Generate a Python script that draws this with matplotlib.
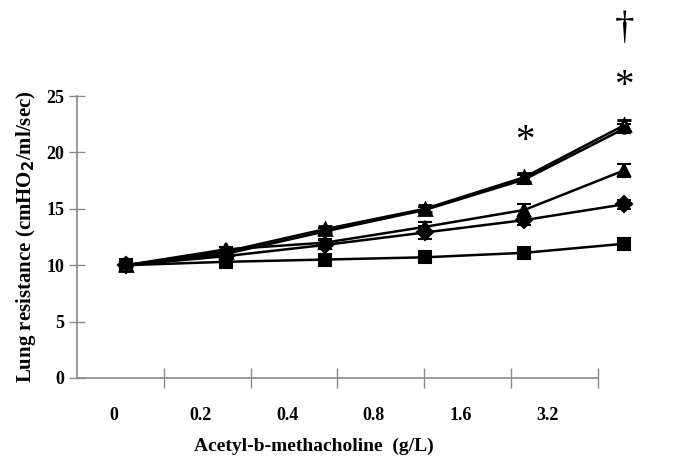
import numpy as np
import matplotlib
matplotlib.use("Agg")
import matplotlib.pyplot as plt

# doses of acetyl-b-methacholine (g/L)
doses = ["0", "0.2", "0.4", "0.8", "1.6", "3.2"]

# lung resistance (cmH2O/ml/sec)
top_a = [10.0, 11.2, 13.2, 15.0, 17.8, 22.4]
top_a_err = [0.1, 0.2, 0.3, 0.3, 0.4, 0.5]
top_b = [10.0, 11.0, 13.0, 14.9, 17.6, 22.1]
top_b_err = [0.1, 0.2, 0.3, 0.3, 0.4, 0.4]
tri = [10.0, 11.4, 12.0, 13.4, 14.9, 18.4]
tri_err = [0.1, 0.2, 0.3, 0.4, 0.5, 0.6]
dia = [10.0, 10.8, 11.8, 12.9, 14.0, 15.4]
dia_err = [0.1, 0.2, 0.4, 0.6, 0.4, 0.4]
sq = [10.0, 10.3, 10.5, 10.7, 11.1, 11.9]
sq_err = [0.1, 0.1, 0.1, 0.1, 0.1, 0.1]

# significance marks: (dose index, y value, symbol)
marks = [(4, 21.0, "*"), (5, 25.8, "*"), (5, 31.0, "\u2020")]

plt.rcParams['font.family'] = ['Liberation Serif', 'DejaVu Serif']
plt.rcParams['font.weight'] = 'bold'

fig = plt.figure(figsize=(6.85, 4.67), dpi=100)
pos = [0.1124, 0.1906, 0.7606, 0.6038]

# frame axes: category cells with ticks at the boundaries
ax = fig.add_axes(pos)
ax.set_xlim(0, 6)
ax.set_ylim(0, 25)
for s in ['top', 'right']:
    ax.spines[s].set_visible(False)
for s in ['left', 'bottom']:
    ax.spines[s].set_color('#8a8a8a')
    ax.spines[s].set_linewidth(1.2)
ax.set_xticks(np.arange(1, 7))
ax.set_xticklabels([])
# labels sit a little left of the cell centres in the original
ax.set_xticks(np.arange(len(doses)) + 0.42, minor=True)
ax.set_xticklabels(doses, minor=True, fontsize=13, fontweight='bold')
ax.tick_params(axis='x', which='major', direction='inout', length=14,
               color='#8a8a8a', width=1)
ax.tick_params(axis='x', which='minor', length=0, pad=21)
ax.set_yticks(np.arange(0, 26, 5))
ax.set_yticklabels([str(v) for v in range(0, 26, 5)], fontsize=13,
                   fontweight='bold')
ax.tick_params(axis='y', direction='inout', length=12, color='#8a8a8a',
               width=1, pad=3)
ax.set_xlabel("Acetyl-b-methacholine  (g/L)", fontsize=14, fontweight='bold')
ax.xaxis.set_label_coords(0.455, -0.21)
ax.set_ylabel("Lung resistance (cmHO$_{\\mathbf{2}}$/ml/sec)", fontsize=15,
              fontweight='bold', labelpad=6)

# data axes, the points sit on a wider spacing than the category cells
ax2 = fig.add_axes(pos, frameon=False, sharey=ax)
ax2.set_xlim(-0.492, 4.739)
ax2.tick_params(left=False, labelleft=False, bottom=False, labelbottom=False)
x = np.arange(len(doses))

series = [
    (sq, sq_err, 's', 'black', 9, 1.5),
    (dia, dia_err, 'D', 'black', 8, 1.5),
    (tri, tri_err, '^', 'black', 9, 1.5),
    (top_a, top_a_err, '^', 'white', 9, 2.0),
    (top_b, top_b_err, 'o', 'black', 6, 1.5),
]
for vals, err, mk, face, ms, mw in series:
    ax2.errorbar(x, vals, yerr=err, color='black', lw=1.8, marker=mk,
                 ms=ms, mfc=face, mec='black', mew=mw, capsize=5,
                 elinewidth=1.5, capthick=1.8, clip_on=False, zorder=3)

for i, yv, sym in marks:
    ax2.text(i, yv, sym, ha='center', va='center', fontsize=28,
             fontweight='normal', clip_on=False)

fig.savefig("out.png", dpi=100)
